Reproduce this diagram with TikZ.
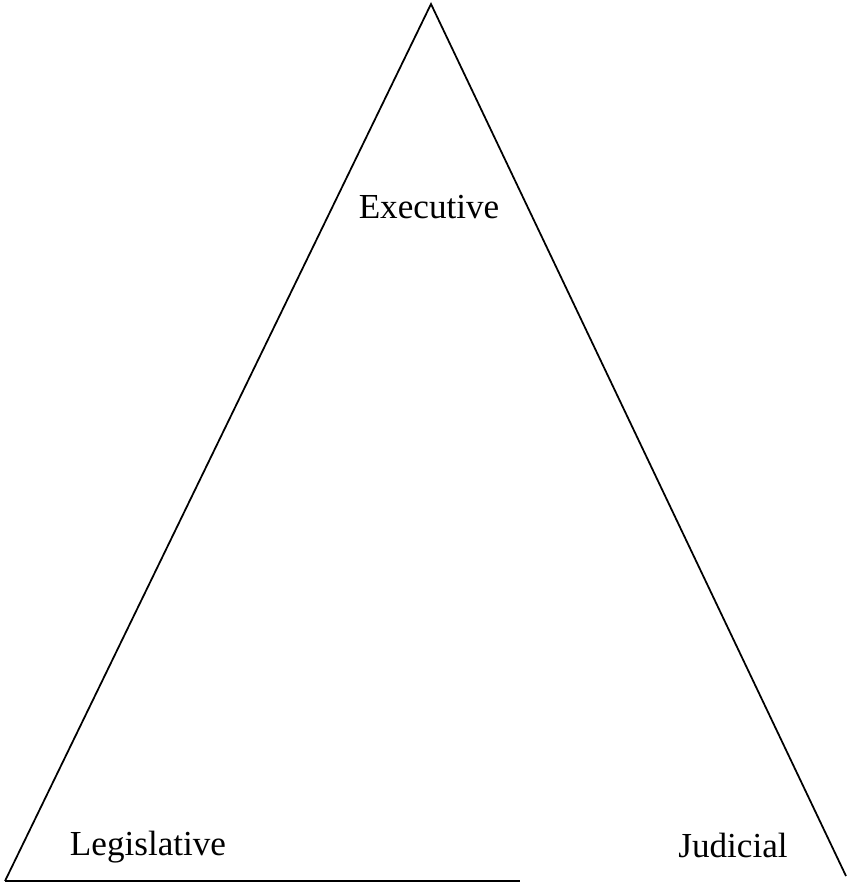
\documentclass[tikz,border=0pt]{standalone}
\usepackage{fontspec}
\setmainfont{Liberation Serif}
\usetikzlibrary{positioning}

\begin{document}
\begin{tikzpicture}[x=0.02cm, y=-0.02cm, branch/.style={font=\fontsize{20}{24}\selectfont}]
	\useasboundingbox (0,0) rectangle (846,883);

	% Corners
	\coordinate (top) at (431,4);
	\coordinate (left) at (5,881);
	\coordinate (right) at (846,876);
	\coordinate (baseend) at (520,881);

	% Sides
	\draw[line width=1pt] (left) -- (top) -- (right);
	\draw[line width=1pt] (left) -- (baseend);

	% Branches
	\node[branch] (exec) at (429,207) {Executive};
	\node[branch] (legis) at (148,847) {Legislative};
	\node[branch] (jud) at (733,845) {Judicial};
\end{tikzpicture}
\end{document}
